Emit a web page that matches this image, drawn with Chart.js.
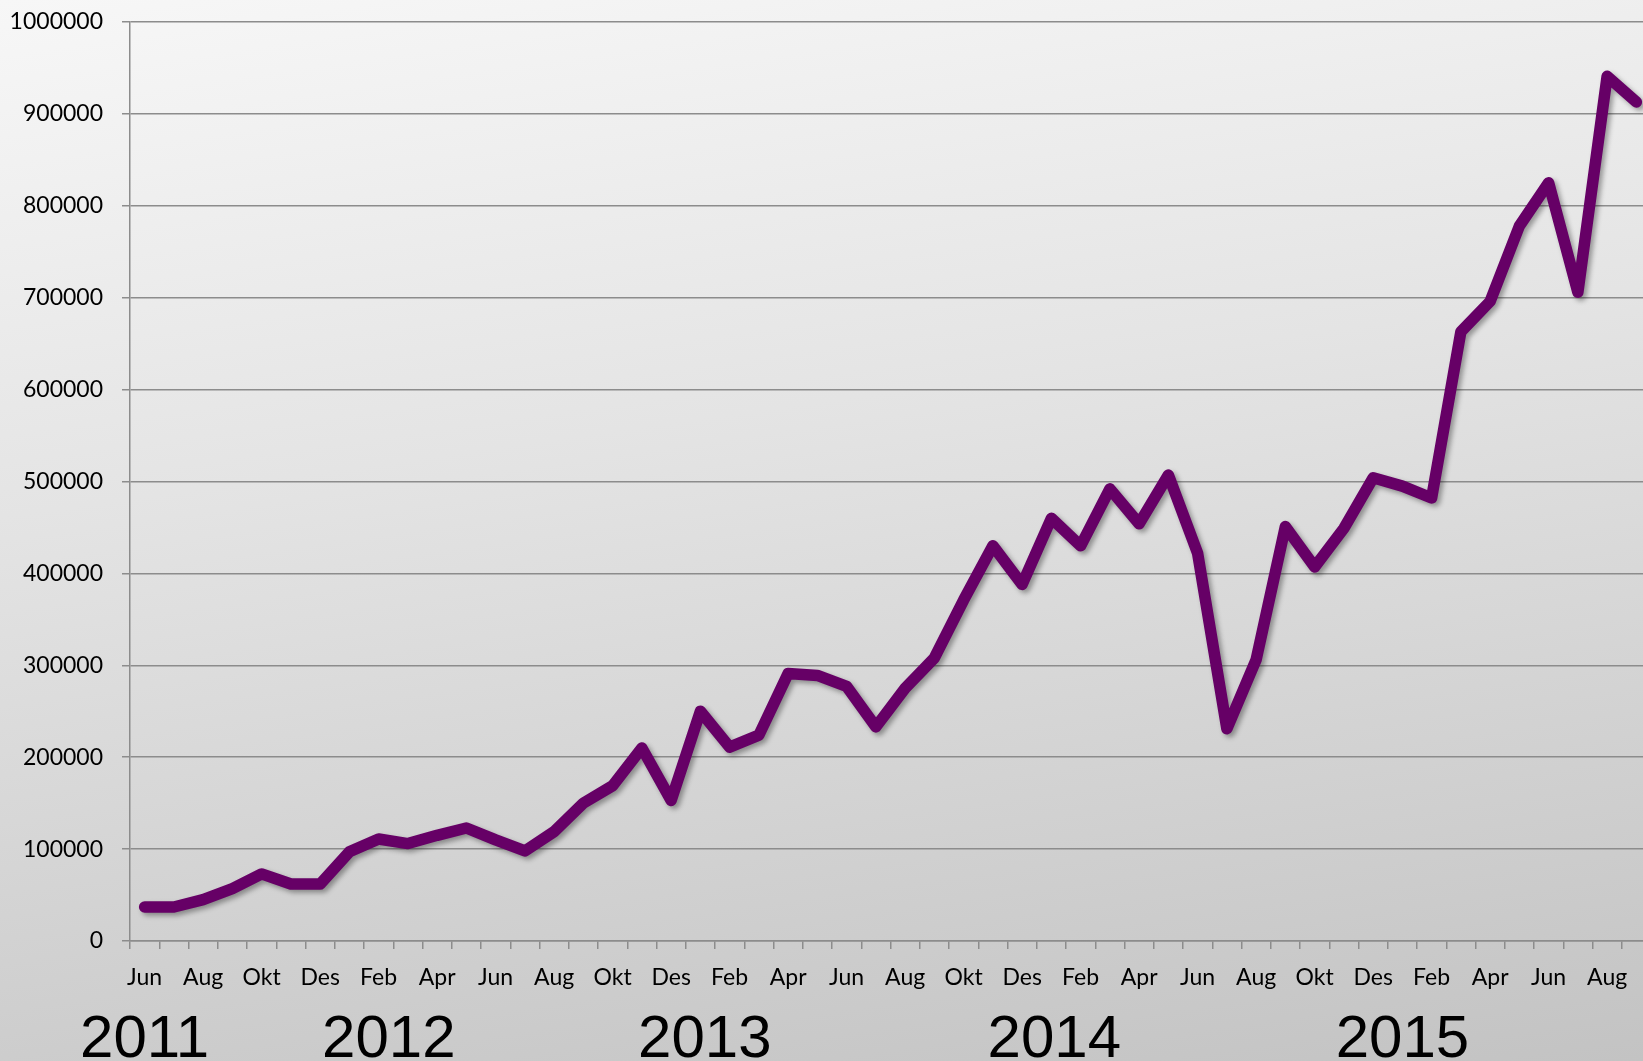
<!DOCTYPE html>
<html>
<head>
<meta charset="utf-8">
<script src="https://cdn.jsdelivr.net/npm/chart.js@4/dist/chart.umd.min.js"></script>
<style>
    html, body {
        margin: 0;
        padding: 0;
        overflow: hidden;
        width: 1643px;
        height: 1061px;
        background: linear-gradient(172deg, #f7f7f7 0%, #e4e4e4 40%, #c3c3c3 100%);
    }
    #wrap {
        position: relative;
        width: 1651px;
        height: 1061px;
    }
</style>
</head>
<body>
<div id="wrap"><canvas id="chart"></canvas></div>
<script>
const months = [
    'Jun', 'Jul', 'Aug', 'Sep', 'Okt', 'Nov', 'Des',
    'Jan', 'Feb', 'Mar', 'Apr', 'Mai', 'Jun', 'Jul', 'Aug', 'Sep', 'Okt', 'Nov', 'Des',
    'Jan', 'Feb', 'Mar', 'Apr', 'Mai', 'Jun', 'Jul', 'Aug', 'Sep', 'Okt', 'Nov', 'Des',
    'Jan', 'Feb', 'Mar', 'Apr', 'Mai', 'Jun', 'Jul', 'Aug', 'Sep', 'Okt', 'Nov', 'Des',
    'Jan', 'Feb', 'Mar', 'Apr', 'Mai', 'Jun', 'Jul', 'Aug', 'Sep'
];

const values = [
    37000, 37000, 45000, 57000, 73000, 62000, 62000,
    97000, 111000, 106000, 115000, 123000, 110000, 98000, 119000, 150000, 169000, 210000, 153000,
    250000, 211000, 224000, 291000, 289000, 277000, 233000, 275000, 308000, 371000, 430000, 388000,
    460000, 430000, 492000, 454000, 507000, 422000, 231000, 306000, 451000, 407000, 449000, 504000,
    495000, 482000, 663000, 696000, 778000, 825000, 706000, 941000, 913000
];

const yTicks = [0, 100000, 200000, 300000, 400000, 500000, 600000, 700000, 800000, 900000, 1000000];

// year captions under the month axis, anchored at a month index
const years = ['2011', '2012', '2013', '2014', '2015'];
const yearAnchor = [0, 8.35, 19.15, 31.1, 43];

const gridColor = '#8c8c8c';

const shadowPlugin = {
    id: 'lineShadow',
    beforeDatasetsDraw(chart) {
        const ctx = chart.ctx;
        ctx.save();
        ctx.shadowColor = 'rgba(0,0,0,0.35)';
        ctx.shadowBlur = 5;
        ctx.shadowOffsetX = 3;
        ctx.shadowOffsetY = 3;
    },
    afterDatasetsDraw(chart) {
        chart.ctx.restore();
    }
};

const yearPlugin = {
    id: 'years',
    afterDraw(chart) {
        const ctx = chart.ctx;
        const x = chart.scales.x;
        ctx.save();
        ctx.font = "60px 'Liberation Sans', Arial, sans-serif";
        ctx.fillStyle = '#000';
        ctx.textAlign = 'center';
        ctx.textBaseline = 'alphabetic';
        years.forEach((y, i) => {
            ctx.fillText(y, x.getPixelForValue(yearAnchor[i]), chart.chartArea.bottom + 116);
        });
        ctx.restore();
    }
};

Chart.defaults.font.family = "Lato, 'Open Sans', sans-serif";
Chart.defaults.color = '#000';

new Chart(document.getElementById('chart'), {
    type: 'line',
    data: {
        labels: months,
        datasets: [{
            data: values,
            borderColor: '#660066',
            borderWidth: 11.5,
            borderJoinStyle: 'round',
            borderCapStyle: 'round',
            pointRadius: 0,
            tension: 0,
            fill: false
        }]
    },
    options: {
        responsive: true,
        maintainAspectRatio: false,
        animation: false,
        layout: { padding: { top: 22, left: 0, right: 0, bottom: 0 } },
        plugins: {
            legend: { display: false },
            tooltip: { enabled: false }
        },
        scales: {
            x: {
                offset: true,
                afterFit: s => {
                    s.height = 120;
                    s.paddingLeft = 0;
                    s.paddingRight = 0;
                },
                grid: {
                    offset: true,
                    drawOnChartArea: false,
                    drawTicks: true,
                    tickLength: 8,
                    color: gridColor,
                    lineWidth: 1.5
                },
                border: { color: gridColor, width: 1.5 },
                ticks: {
                    autoSkip: false,
                    maxRotation: 0,
                    minRotation: 0,
                    padding: 15,
                    font: { size: 23 },
                    callback: (v, i) => (i % 2 === 0 ? months[i] : '')
                }
            },
            y: {
                min: 0,
                max: 1000000,
                afterFit: s => {
                    s.width = 130;
                    s.paddingTop = 0;
                    s.paddingBottom = 0;
                },
                afterBuildTicks: s => { s.ticks = yTicks.map(v => ({ value: v })); },
                grid: {
                    color: gridColor,
                    lineWidth: 1.5,
                    tickLength: 8
                },
                border: { color: gridColor, width: 1.5 },
                ticks: {
                    padding: 19,
                    font: { size: 23 },
                    callback: v => String(v)
                }
            }
        }
    },
    plugins: [shadowPlugin, yearPlugin]
});
</script>
</body>
</html>
